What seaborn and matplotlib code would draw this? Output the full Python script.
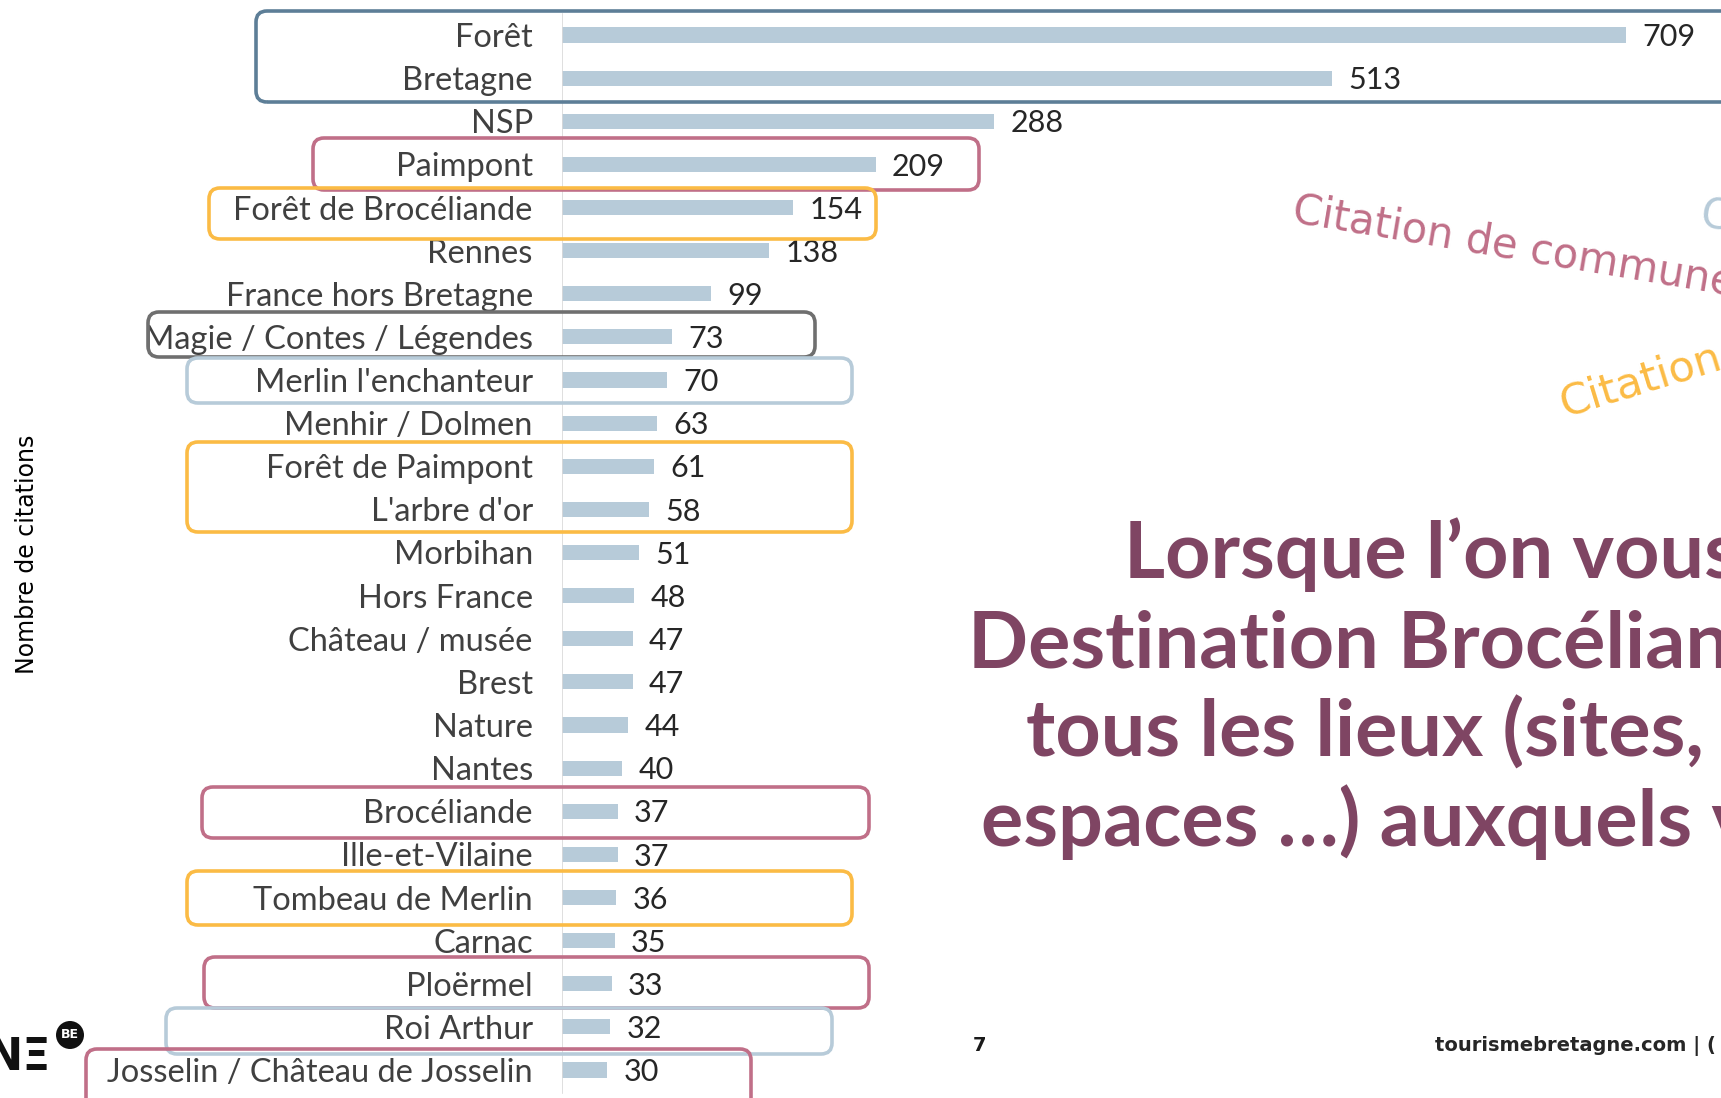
import matplotlib
matplotlib.use("Agg")
import matplotlib.pyplot as plt
import seaborn as sns
import pandas as pd
from matplotlib.patches import FancyBboxPatch, Circle
from matplotlib.transforms import IdentityTransform

# ---------------- DATA ----------------
categories = [
    "Forêt", "Bretagne", "NSP", "Paimpont", "Forêt de Brocéliande", "Rennes",
    "France hors Bretagne", "Magie / Contes / Légendes", "Merlin l'enchanteur",
    "Menhir / Dolmen", "Forêt de Paimpont", "L'arbre d'or", "Morbihan",
    "Hors France", "Château / musée", "Brest", "Nature", "Nantes", "Brocéliande",
    "Ille-et-Vilaine", "Tombeau de Merlin", "Carnac", "Ploërmel", "Roi Arthur",
    "Josselin / Château de Josselin",
]
values = [709, 513, 288, 209, 154, 138, 99, 73, 70, 63, 61, 58, 51, 48, 47, 47,
          44, 40, 37, 37, 36, 35, 33, 32, 30]

title_lines = [
    "Lorsque l’on vous",
    "Destination Brocéliande",
    "tous les lieux (sites,",
    "espaces …) auxquels v",
]

# ---------------- CONFIG ----------------
W, H = 1721, 1098
BAR_COLOR = "#b7cbd9"
MAUVE = "#c06f88"
YELLOW = "#fbbb45"
DARKBLUE = "#5d7e97"
GREY = "#6f6f6f"
LIGHTBLUE = "#b7cbd9"
TITLE_COLOR = "#7f4563"

# highlight boxes: (left px, top px, right px, bottom px, colour)
boxes = [
    (256, 11, 1760, 102, DARKBLUE),
    (313, 138, 979, 190, MAUVE),
    (209, 188, 876, 239, YELLOW),
    (148, 312, 815, 357, GREY),
    (187, 358, 852, 403, LIGHTBLUE),
    (187, 442, 852, 532, YELLOW),
    (202, 787, 869, 838, MAUVE),
    (187, 871, 852, 925, YELLOW),
    (204, 957, 869, 1008, MAUVE),
    (166, 1008, 832, 1054, LIGHTBLUE),
    (86, 1049, 751, 1130, MAUVE),
]

df = pd.DataFrame({"lieu": categories, "n": values})

fig = plt.figure(figsize=(W / 100, H / 100), dpi=100)
fig.patch.set_facecolor("white")

# main bar axes: x=0 sits at px 562, 1.5 px per citation
x0_px = 562
px_per_unit = 1.5
ax = fig.add_axes([x0_px / W, 0, (W - x0_px) / W, 1])
sns.barplot(data=df, x="n", y="lieu", orient="h", color=BAR_COLOR,
            saturation=1, width=0.35, ax=ax)
ax.set_xlim(0, (W - x0_px) / px_per_unit)
row0, step = 35, 43.125
ax.set_ylim(24 + (H - 35 - 24 * step) / step, -row0 / step)
for s in ax.spines.values():
    s.set_visible(False)
ax.axvline(0, ymin=0.005, ymax=1 - 14 / H, color="#d9d9d9", lw=1.2)
ax.set_xticks([])
ax.set_xlabel("")
ax.set_ylabel("")
ax.tick_params(axis="y", length=0, pad=21)
for lab in ax.get_yticklabels():
    lab.set_fontfamily(["Lato", "DejaVu Sans"])
    lab.set_fontsize(23.5)
    lab.set_color("#404040")

for i, v in enumerate(values):
    ax.text(v + 11, i + 0.05, str(v), va="center", ha="left", fontsize=22,
            family=["Lato", "DejaVu Sans"], color="#262626")

# highlight boxes in pixel coords
for (l, t, r, b, c) in boxes:
    p = FancyBboxPatch((l, H - b), r - l, b - t,
                       boxstyle="round,pad=0,rounding_size=11",
                       fill=False, edgecolor=c, lw=2.6,
                       transform=IdentityTransform(), zorder=5)
    fig.add_artist(p)


def fx(x):
    return x / W


def fy(y):
    return 1 - y / H


# axis title at far left
fig.text(fx(27), fy(554), "Nombre de citations", rotation=90, ha="center",
         va="center", fontsize=17, color="black", family="DejaVu Sans")

# rotated "Citation" labels (cut by the right edge as in the slide)
fig.text(fx(1291), fy(222), "Citation de commune", rotation=-9.5,
         rotation_mode="anchor", ha="left", va="baseline", fontsize=30,
         color=MAUVE, family="DejaVu Sans")
fig.text(fx(1564), fy(417), "Citation", rotation=17,
         rotation_mode="anchor", ha="left", va="baseline", fontsize=31,
         color=YELLOW, family="DejaVu Sans")
fig.text(fx(1699), fy(226), "Ci", rotation=-9.5,
         rotation_mode="anchor", ha="left", va="baseline", fontsize=30,
         color=LIGHTBLUE, family="DejaVu Sans")

# big slide title (cut at right edge)
title_pos = [(1124, 578), (968, 667), (1026, 757), (981, 846)]
for txt, (x, y) in zip(title_lines, title_pos):
    fig.text(fx(x), fy(y), txt, ha="left", va="baseline", fontsize=57,
             fontweight="bold", color=TITLE_COLOR, family=["Lato", "DejaVu Sans"])

# footer
fig.text(fx(973), fy(1051), "7", ha="left", va="baseline", fontsize=14,
         fontweight="bold", color="#1a1a1a", family="DejaVu Sans")
fig.text(fx(1435), fy(1051), "tourismebretagne.com | (", ha="left",
         va="baseline", fontsize=14, fontweight="bold", color="#262626",
         family="DejaVu Sans")

# logo fragment bottom-left
fig.text(fx(51), fy(1070), "NΞ", ha="right", va="baseline", fontsize=32,
         fontweight="heavy", color="#111111", family="DejaVu Sans")
fig.add_artist(Circle((70, H - 1035), 14, transform=IdentityTransform(),
                      facecolor="#111111", edgecolor="none", zorder=6))
fig.text(fx(70), fy(1035), "BE", ha="center", va="center", fontsize=9,
         fontweight="bold", color="white", family="DejaVu Sans", zorder=7)

fig.savefig("out.png", dpi=100, facecolor="white")
